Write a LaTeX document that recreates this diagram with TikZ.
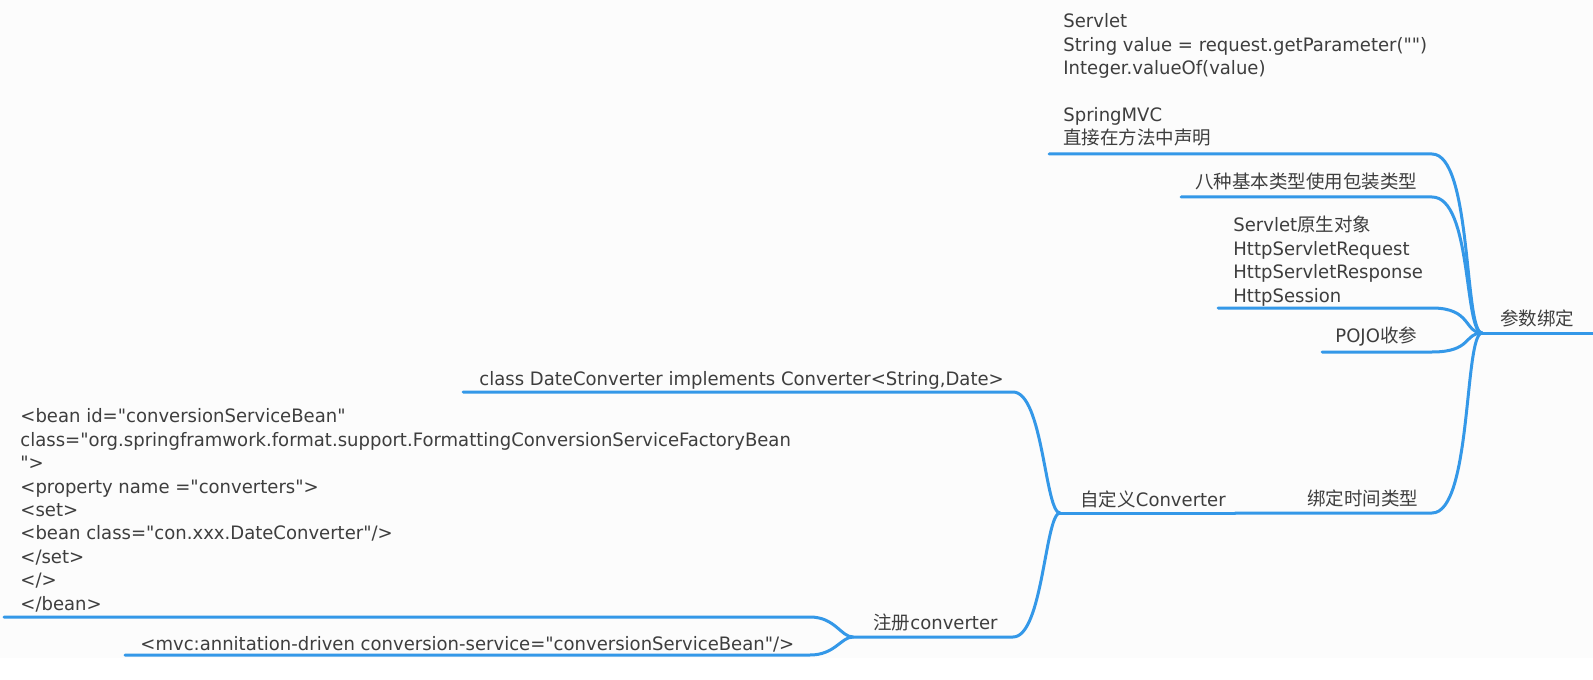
\documentclass[tikz,border=0pt]{standalone}
\usepackage{fontspec}
\setmainfont[FakeStretch=0.975, Ligatures=TeXOff]{DejaVu Sans}
\newfontfamily\cjk{Noto Sans CJK SC}
\newcommand{\zh}[1]{{\cjk #1}}
\definecolor{linkblue}{RGB}{52,152,232}
\definecolor{ink}{RGB}{62,62,62}
\definecolor{paper}{RGB}{252,252,252}

\begin{document}
\begin{tikzpicture}[x=0.5pt, y=-0.5pt, line cap=round,
    topic/.style = {anchor=base west, inner sep=0pt, text=ink, align=left,
                    font=\fontsize{9.25}{11.7}\selectfont},
    branch/.style = {draw=linkblue, line width=1.5pt}]
        \useasboundingbox (0,0) rectangle (1593,679);
        \fill[paper] (0,0) rectangle (1593,658);

        % root
        \coordinate (R) at (1482,333);
        \coordinate (bindE) at (1593,333);
        \node[topic] (bind) at (1500,325) {\zh{参数绑定}};
        \draw[branch] (R) -- (bindE);

        % children of the root (multi-line texts sit on their last line)
        \node[topic] (servlet) at (1063,145) {Servlet\\String value = request.getParameter("")\\Integer.valueOf(value)\\[11.7pt]SpringMVC\\\zh{直接在方法中声明}};
        \node[topic] (eight) at (1195,189) {\zh{八种基本类型使用包装类型}};
        \node[topic] (native) at (1233,302) {Servlet\zh{原生对象}\\HttpServletRequest\\HttpServletResponse\\HttpSession};
        \node[topic] (pojo) at (1335,342) {POJO\zh{收参}};
        \node[topic] (time) at (1307,505) {\zh{绑定时间类型}};

        \coordinate (servletL) at (1049,154);  \coordinate (servletR) at (1432,154);
        \coordinate (eightL) at (1181,197);    \coordinate (eightR) at (1432,197);
        \coordinate (nativeL) at (1218,308);   \coordinate (nativeR) at (1432,308);
        \coordinate (pojoL) at (1322,352);     \coordinate (pojoR) at (1432,352);
        \coordinate (timeL) at (1235,513);     \coordinate (timeR) at (1432,513);

        \draw[branch] (R) .. controls +(-18,0) and +(40,0) .. (servletR) -- (servletL);
        \draw[branch] (R) .. controls +(-18,0) and +(40,0) .. (eightR) -- (eightL);
        \draw[branch] (R) .. controls +(-18,0) and +(40,0) .. (nativeR) -- (nativeL);
        \draw[branch] (R) .. controls +(-18,0) and +(40,0) .. (pojoR) -- (pojoL);
        \draw[branch] (R) .. controls +(-18,0) and +(40,0) .. (timeR) -- (timeL);

        % custom converter
        \coordinate (J) at (1060,513);
        \node[topic] (custom) at (1080,506) {\zh{自定义}Converter};
        \draw[branch] (timeL) -- (J);

        \node[topic] (dateconv) at (479,385) {class DateConverter implements Converter<String,Date>};
        \node[topic] (register) at (873,629) {\zh{注册}converter};
        \coordinate (dateconvL) at (463,392);  \coordinate (dateconvR) at (1013,392);
        \coordinate (K) at (853,637);          \coordinate (registerR) at (1013,637);
        \draw[branch] (J) .. controls +(-15,0) and +(30,0) .. (dateconvR) -- (dateconvL);
        \draw[branch] (J) .. controls +(-15,0) and +(30,0) .. (registerR) -- (K);

        % register converter
        \node[topic] (bean) at (20,610) {<bean id="conversionServiceBean"\\class="org.springframwork.format.support.FormattingConversionServiceFactoryBean\\">\\<property name ="converters">\\<set>\\<bean class="con.xxx.DateConverter"/>\\</set>\\</>\\</bean>};
        \node[topic] (mvc) at (140,650) {<mvc:annitation-driven conversion-service="conversionServiceBean"/>};
        \coordinate (beanL) at (4,617);        \coordinate (beanR) at (810,617);
        \coordinate (mvcL) at (125,655);       \coordinate (mvcR) at (810,655);
        \draw[branch] (K) .. controls +(-12,0) and +(25,0) .. (beanR) -- (beanL);
        \draw[branch] (K) .. controls +(-12,0) and +(25,0) .. (mvcR) -- (mvcL);
    \end{tikzpicture}
\end{document}
